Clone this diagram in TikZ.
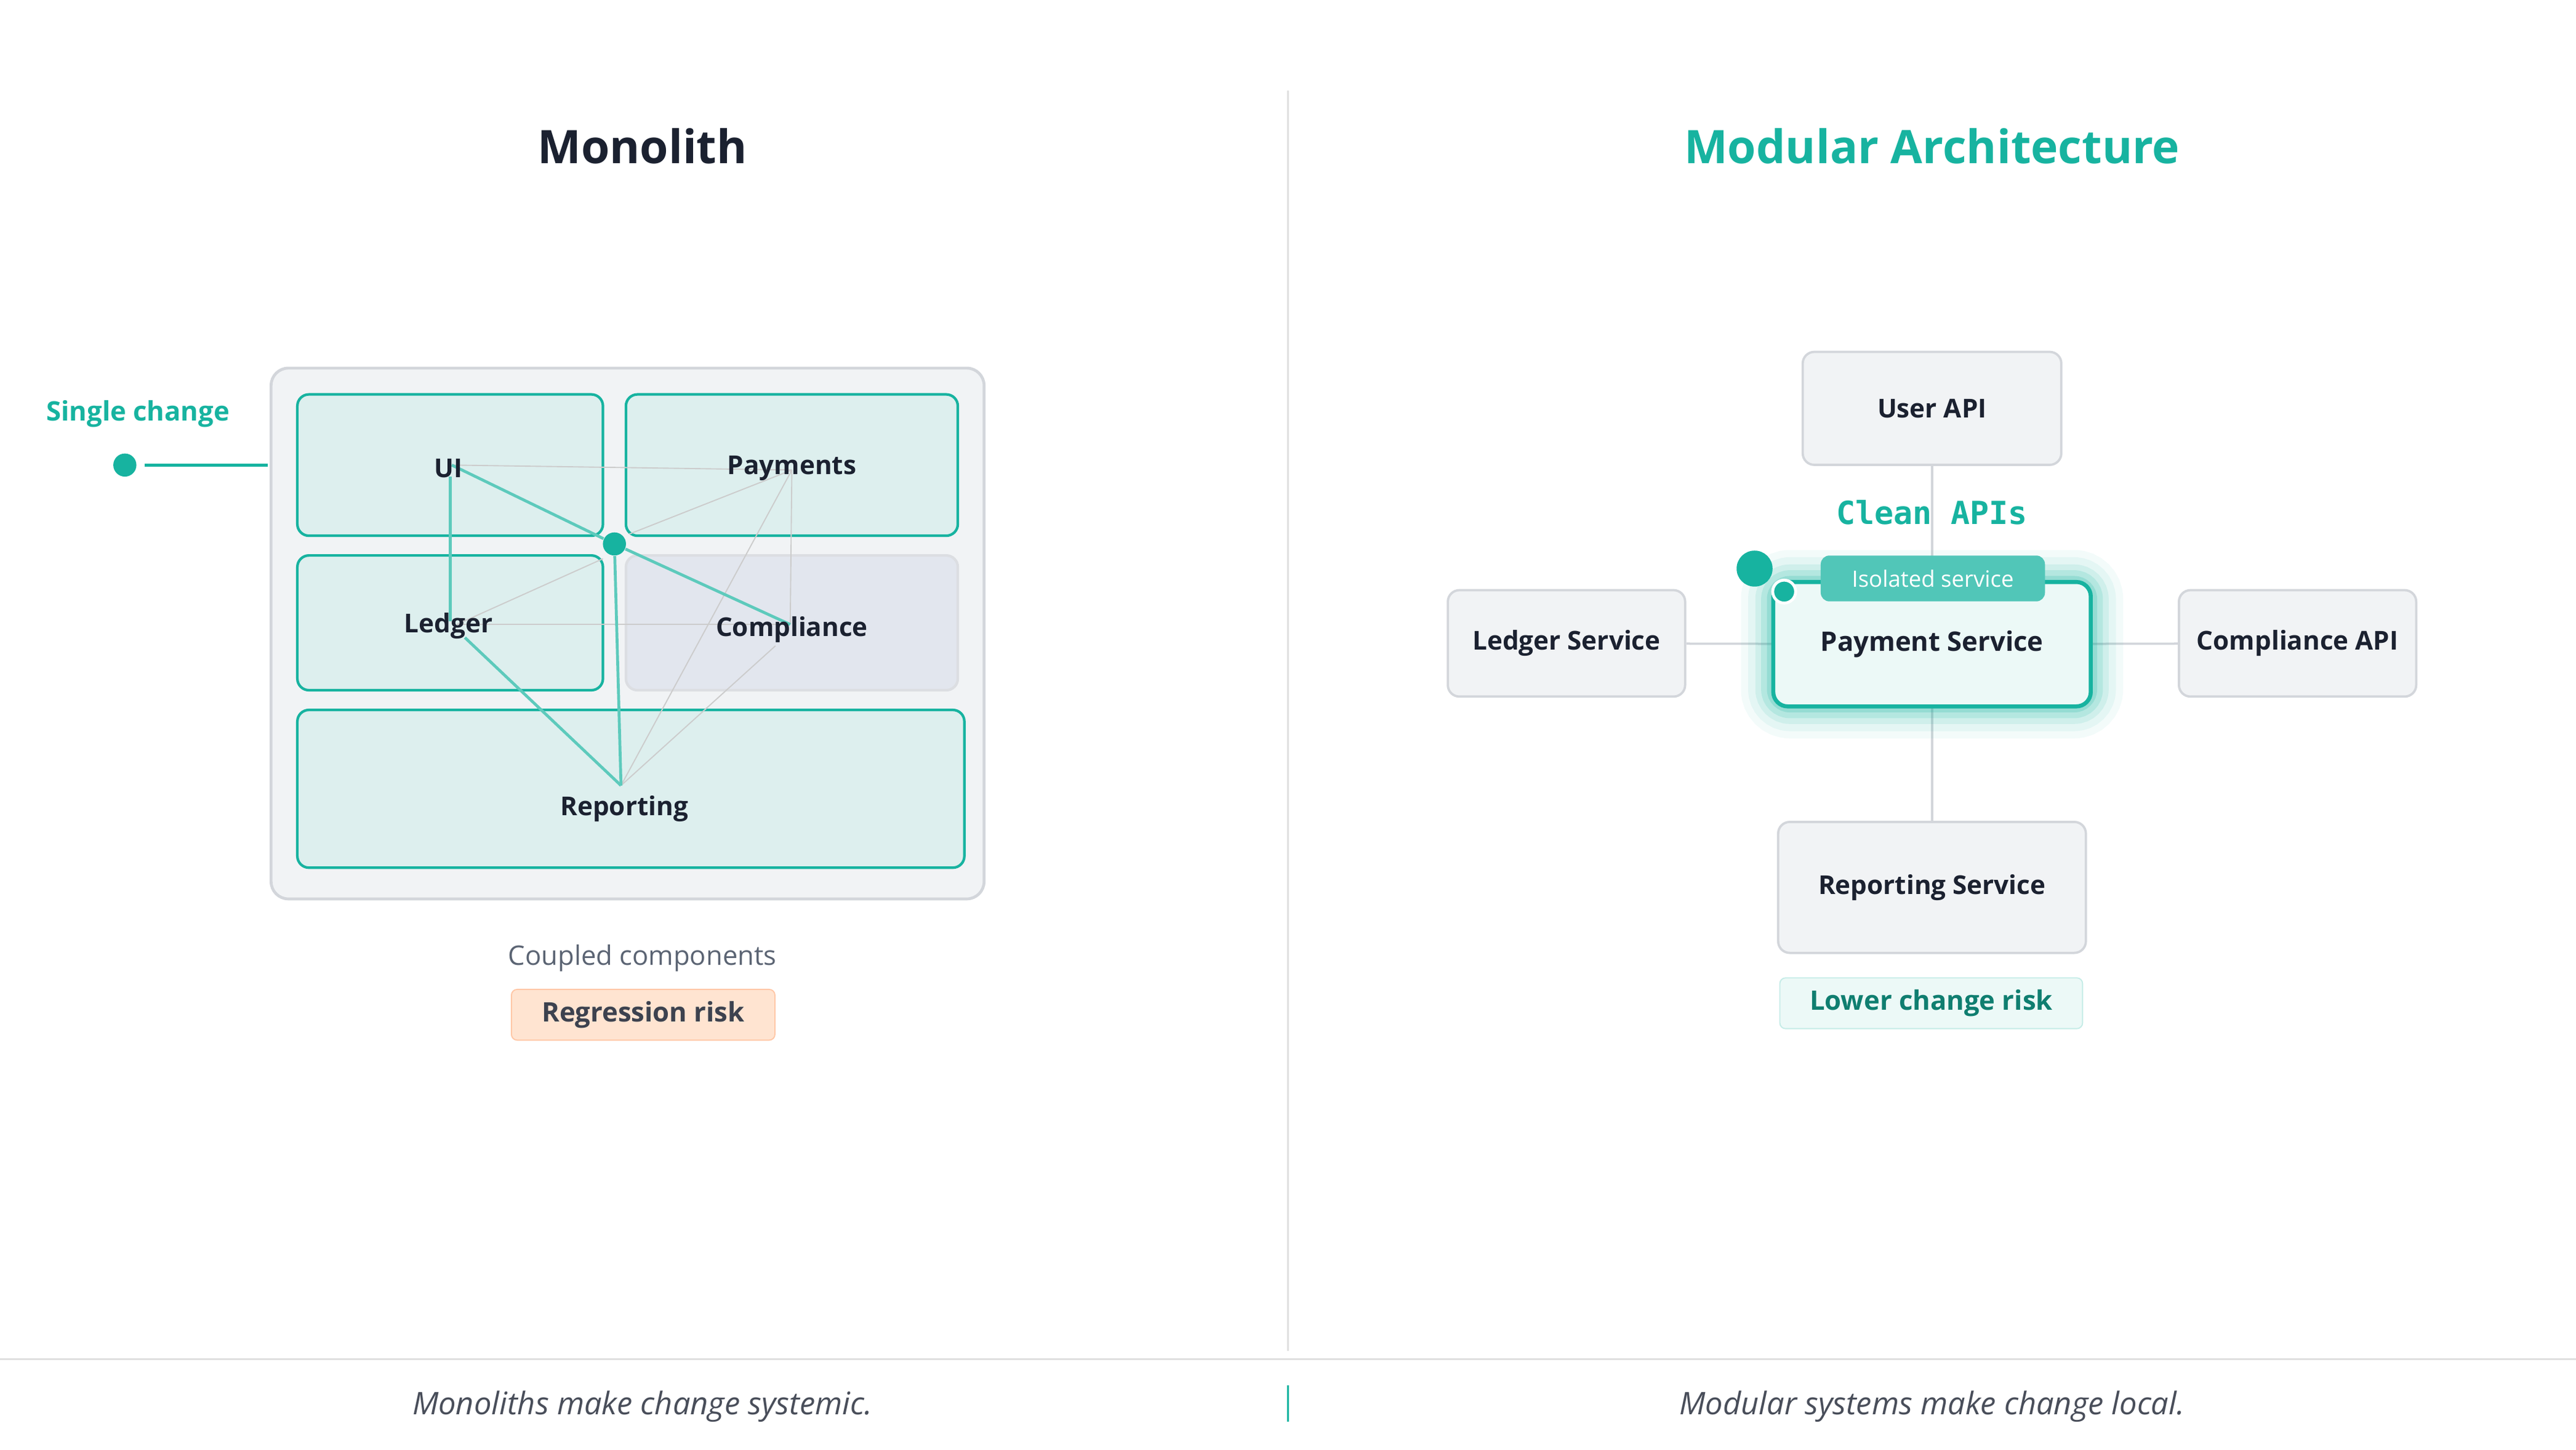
\documentclass[tikz,border=0pt]{standalone}
\usepackage{fontspec}
\setmainfont{Open Sans}
\newfontfamily\monofont{DejaVu Sans Mono}
\usetikzlibrary{calc}
\definecolor{teal}{HTML}{17B3A0}
\definecolor{tealdark}{HTML}{0F7E70}
\definecolor{tealfill}{HTML}{DDEFEE}
\definecolor{ink}{HTML}{1B2130}
\definecolor{greyfill}{HTML}{F1F3F5}
\definecolor{slatefill}{HTML}{E2E6EE}
\definecolor{greyline}{HTML}{D3D6DB}
\definecolor{muted}{HTML}{5B6473}
\tikzset{
  comp/.style={draw=teal, fill=tealfill, rounded corners=4pt, line width=0.9pt, inner sep=0pt},
  svc/.style={draw=greyline, fill=greyfill, rounded corners=4pt, line width=0.8pt,
    font=\fontsize{9}{11}\selectfont\bfseries, text=ink},
  lbl/.style={font=\fontsize{9}{11}\selectfont\bfseries, text=ink},
  couple/.style={teal!70, line width=1pt},
  weak/.style={black!20, line width=0.4pt},
  dot/.style={circle, fill=teal, inner sep=0pt}
}
\begin{document}
\begin{tikzpicture}[x=0.02cm, y=-0.02cm]
\useasboundingbox (0,0) rectangle (1568,882);

% titles and dividers
\node[font=\fontsize{16}{20}\selectfont\bfseries, text=ink] (monotitle) at (391,89) {Monolith};
\node[font=\fontsize{16}{20}\selectfont\bfseries, text=teal] (modtitle) at (1176,89) {Modular Architecture};
\draw[black!12, line width=0.6pt] (784,55) -- (784,822);
\draw[black!12, line width=0.6pt] (0,827) -- (1568,827);
\draw[teal, line width=0.8pt] (784,843) -- (784,865);
\node[font=\fontsize{10.8}{12}\selectfont\itshape, text=ink!80] (footl) at (391,856) {Monoliths make change systemic.};
\node[font=\fontsize{10.8}{12}\selectfont\itshape, text=ink!80] (footr) at (1176,856) {Modular systems make change local.};

% monolith
\draw[greyline, fill=greyfill, rounded corners=6pt, line width=1pt] (165,224) rectangle (599,547);
\draw[comp] (181,240) rectangle (367,326);
\draw[comp] (381,240) rectangle (583,326);
\draw[comp] (181,338) rectangle (367,420);
\draw[greyline!80, fill=slatefill, rounded corners=4pt, line width=0.9pt] (381,338) rectangle (583,420);
\draw[comp] (181,432) rectangle (587,528);

\coordinate (ui) at (275,283);
\coordinate (pay) at (482,286);
\coordinate (led) at (278,380);
\coordinate (comp) at (481,380);
\coordinate (rep) at (378,478);
\node[dot, minimum size=8pt] (hub) at (374,331) {};

\draw[weak] (ui) -- (pay);
\draw[weak] (led) -- (comp);
\draw[weak] (pay) -- (comp);
\draw[weak] (pay) -- (383,325);
\draw[weak] (led) -- (367,340);
\draw[weak] (pay) -- (rep);
\draw[weak] (472,393) -- (rep);
\draw[couple] (ui) -- (hub) -- (comp);
\draw[couple] (274,290) -- (274,378);
\draw[couple] (283,388) -- (rep);
\draw[couple] (hub) -- (rep);

\node[lbl] (uil) at (273,285) {UI};
\node[lbl] (payl) at (482,285) {Payments};
\node[lbl] (ledl) at (273,381) {Ledger};
\node[lbl] (compl) at (482,383) {Compliance};
\node[lbl] (repl) at (380,492) {Reporting};

\node[font=\fontsize{9.3}{11}\selectfont\bfseries, text=teal] (single) at (84,252) {Single change};
\node[dot, minimum size=8pt] (sdot) at (76,283) {};
\coordinate (send) at (163,283);
\draw[teal, line width=1.2pt] (88,283) -- (send);

\node[font=\fontsize{9.3}{11}\selectfont, text=muted] (coupled) at (391,583) {Coupled components};
\node[draw=red!25!orange!35, fill=red!18!orange!18, rounded corners=2pt, minimum width=161*0.567pt, minimum height=31*0.567pt,
  font=\fontsize{9.3}{11}\selectfont\bfseries, text=ink!85] (regr) at (391.5,617.5) {Regression risk};

% modular
\node[svc, minimum width=158*0.567pt, minimum height=69*0.567pt] (userapi) at (1176,248.5) {User API};
\node[svc, minimum width=145*0.567pt, minimum height=65*0.567pt] (ledger) at (953.5,391.5) {Ledger Service};
\node[svc, minimum width=145*0.567pt, minimum height=65*0.567pt] (compapi) at (1398.5,391.5) {Compliance API};
\node[svc, minimum width=188*0.567pt, minimum height=80*0.567pt] (reporting) at (1176,540) {Reporting Service};
\coordinate (paycenter) at (1176,392);
\draw[greyline, line width=0.8pt] (userapi) -- (paycenter) -- (reporting);
\draw[greyline, line width=0.8pt] (ledger) -- (paycenter) -- (compapi);

% glow
\foreach \w/\o in {22/0.05,17/0.07,12/0.1,8/0.14,4/0.2}
  \draw[teal, opacity=\o, line width=\w pt, rounded corners=6pt] (1079,354) rectangle (1273,430);
\node[draw=teal, fill=teal!8!white, line width=1.4pt, rounded corners=5pt, minimum width=194*0.567pt, minimum height=76*0.567pt,
  font=\fontsize{9.3}{11}\selectfont\bfseries, text=ink] (payment) at (1176,392) {Payment Service};
\node[fill=teal!75!white, rounded corners=3pt, minimum width=137*0.567pt, minimum height=28*0.567pt,
  font=\fontsize{7.8}{9}\selectfont, text=white] (isolated) at (1176.5,352) {Isolated service};
\node[font=\monofont\fontsize{11}{12}\selectfont\bfseries, text=teal] (clean) at (1176,312) {Clean APIs};
\node[dot, minimum size=22*0.567pt] (bigdot) at (1068,346) {};
\node[draw=white, line width=1pt, dot, minimum size=14*0.567pt] (smalldot) at (1086,360) {};

\node[draw=teal!25, fill=teal!8!white, rounded corners=2pt, minimum width=185*0.567pt, minimum height=31*0.567pt,
  font=\fontsize{9.3}{11}\selectfont\bfseries, text=tealdark] (lower) at (1175.5,610.5) {Lower change risk};
\end{tikzpicture}
\end{document}
